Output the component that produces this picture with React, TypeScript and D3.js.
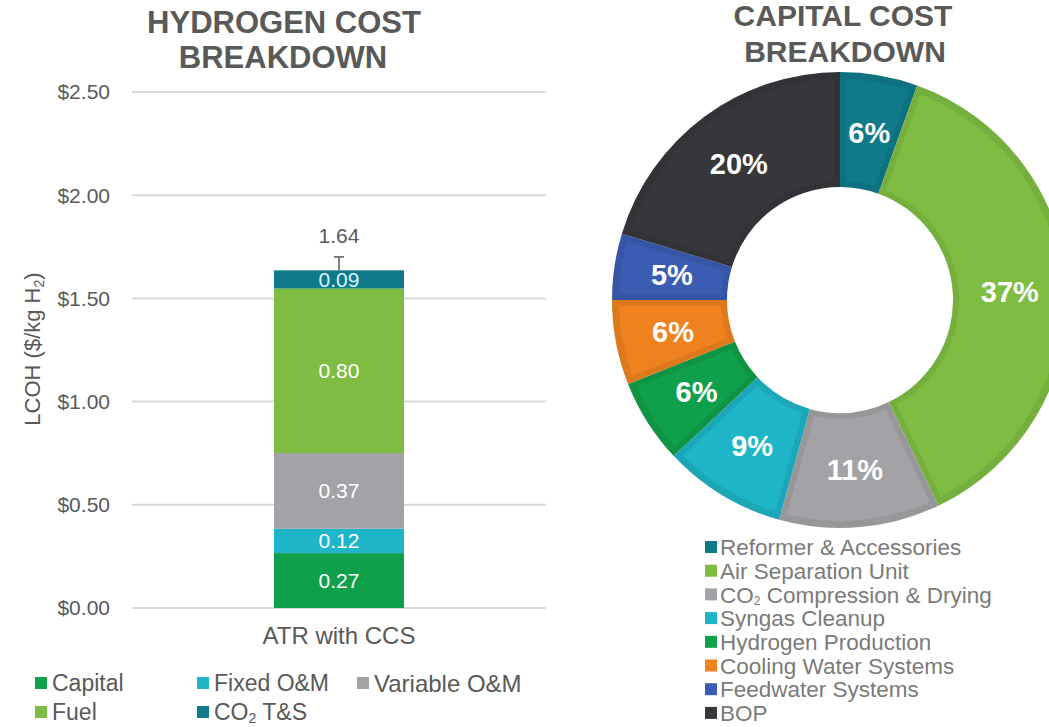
import React from 'react';
import * as d3 from 'd3';

// ---- Data: hydrogen cost breakdown (stacked bar) ----
const costCategories = ['Capital', 'Fixed O&M', 'Variable O&M', 'Fuel', 'CO₂ T&S'];
const costValues = [0.266, 0.118, 0.367, 0.797, 0.088];
const costColors = ['#10a04b', '#1db5c7', '#a3a3a7', '#7fbd42', '#0f7a8a'];
const barCategory = 'ATR with CCS';
const errorHigh = 0.065;
const yTicks = [0, 0.5, 1, 1.5, 2, 2.5];

// ---- Data: capital cost breakdown (donut) ----
const capitalLabels = [
  'Reformer & Accessories',
  'Air Separation Unit',
  'CO₂ Compression & Drying',
  'Syngas Cleanup',
  'Hydrogen Production',
  'Cooling Water Systems',
  'Feedwater Systems',
  'BOP',
];
const capitalShares = [5.5, 37.4, 11.4, 8.7, 6.0, 6.0, 4.7, 20.3];
const capitalColors = ['#0f7a8a', '#7fbd42', '#a3a3a7', '#1db5c7', '#10a04b', '#f0821e', '#3a5db3', '#37373b'];

const FONT = '"Liberation Sans", Arial, Helvetica, sans-serif';
const TEXT = '#595959';

function Sub({ label, subSize, shift }: { label: string; subSize: number; shift: number }) {
  const parts = label.split('₂');
  if (parts.length === 1) return <>{label}</>;
  return (
    <>
      {parts[0]}
      <tspan fontSize={subSize} dy={shift}>2</tspan>
      <tspan dy={-shift}>{parts[1]}</tspan>
    </>
  );
}

export default function App() {
  const W = 1049;
  const H = 727;

  // bar chart scales
  const y = d3.scaleLinear().domain([0, 2.5]).range([608, 92]);
  const x = d3.scaleBand<string>().domain([barCategory]).range([132, 546]).padding(0.522);
  const row: Record<string, number> = {};
  costCategories.forEach((c, i) => (row[c] = costValues[i]));
  const stack = d3.stack<Record<string, number>>().keys(costCategories)([row]);
  const total = d3.sum(costValues);
  const bx = x(barCategory) as number;
  const bw = x.bandwidth();
  const cx = bx + bw / 2;

  // donut
  const dcx = 840;
  const dcy = 300;
  const pie = d3.pie<number>().sort(null).value((d) => d)(capitalShares);
  const outerR = 228;
  const innerR = 113;
  const arcBase = d3.arc<d3.PieArcDatum<number>>().innerRadius(innerR).outerRadius(outerR);
  const arcInset = d3
    .arc<d3.PieArcDatum<number>>()
    .innerRadius(innerR + 6)
    .outerRadius(outerR - 7)
    .padRadius(100)
    .padAngle(0.12);
  const labelArc = d3.arc<d3.PieArcDatum<number>>().innerRadius(170).outerRadius(170);

  const leftLegendPos = [
    [35, 683],
    [197, 683],
    [357, 683],
    [35, 712],
    [197, 712],
  ];

  return (
    <svg
      width={W}
      height={H}
      style={{ position: 'absolute', left: 0, top: 0, background: '#fff' }}
      fontFamily={FONT}
    >
      {/* Left title */}
      <text x={284} y={33} textAnchor="middle" fontSize={31} fontWeight="bold" fill={TEXT}>
        HYDROGEN COST
      </text>
      <text x={283} y={68} textAnchor="middle" fontSize={31} fontWeight="bold" fill={TEXT}>
        BREAKDOWN
      </text>

      {/* gridlines + ticks */}
      {yTicks.map((t) => (
        <g key={t}>
          <line x1={132} x2={546} y1={y(t)} y2={y(t)} stroke="#d9d9d9" strokeWidth={2} />
          <text x={110} y={y(t)} dy="0.35em" textAnchor="end" fontSize={21} fill={TEXT}>
            {d3.format('$.2f')(t)}
          </text>
        </g>
      ))}

      {/* Y axis title */}
      <text
        transform={`translate(40,${349}) rotate(-90)`}
        textAnchor="middle"
        fontSize={22}
        fill={TEXT}
      >
        LCOH ($/kg H<tspan fontSize={14} dy={4}>2</tspan>
        <tspan dy={-4}>)</tspan>
      </text>

      {/* stacked bar */}
      {stack.map((s, i) => {
        const seg = s[0];
        const y0 = y(seg[0]);
        const y1 = y(seg[1]);
        return (
          <g key={s.key}>
            <rect x={bx} y={y1} width={bw} height={y0 - y1} fill={costColors[i]} />
            <text
              x={cx}
              y={(y0 + y1) / 2}
              dy="0.36em"
              textAnchor="middle"
              fontSize={21}
              fill={i === 4 ? '#d8f6fa' : '#ffffff'}
            >
              {costValues[i].toFixed(2)}
            </text>
          </g>
        );
      })}

      {/* error bar */}
      <line x1={cx} x2={cx} y1={y(total)} y2={y(total + errorHigh)} stroke={TEXT} strokeWidth={1.5} />
      <line x1={cx - 5} x2={cx + 5} y1={y(total + errorHigh)} y2={y(total + errorHigh)} stroke={TEXT} strokeWidth={1.5} />
      <text x={cx} y={236} dy="0.35em" textAnchor="middle" fontSize={21} fill={TEXT}>
        {total.toFixed(2)}
      </text>

      {/* category label */}
      <text x={cx} y={636} dy="0.35em" textAnchor="middle" fontSize={24} fill={TEXT}>
        {barCategory}
      </text>

      {/* left legend */}
      {costCategories.map((c, i) => (
        <g key={c}>
          <rect x={leftLegendPos[i][0]} y={leftLegendPos[i][1] - 6} width={12} height={12} fill={costColors[i]} />
          <text
            x={leftLegendPos[i][0] + 17}
            y={leftLegendPos[i][1]}
            dy="0.36em"
            fontSize={i === 2 ? 24 : 23}
            fill={TEXT}
          >
            <Sub label={c} subSize={14} shift={3} />
          </text>
        </g>
      ))}

      {/* Right title */}
      <text x={843} y={26} textAnchor="middle" fontSize={30} fontWeight="bold" fill={TEXT}>
        CAPITAL COST
      </text>
      <text x={845} y={62} textAnchor="middle" fontSize={30} fontWeight="bold" fill={TEXT}>
        BREAKDOWN
      </text>

      {/* donut */}
      <g transform={`translate(${dcx},${dcy})`}>
        {pie.map((p, i) => {
          const base = d3.color(capitalColors[i])!;
          const band = d3.color(capitalColors[i])!.darker(0.22).formatHex();
          return (
            <g key={i}>
              <path d={arcBase(p) as string} fill={band} />
              <path d={arcInset(p) as string} fill={base.formatHex()} />
            </g>
          );
        })}
        {pie.map((p, i) => {
          const [lx, ly] = labelArc.centroid(p);
          return (
            <text
              key={'l' + i}
              x={lx}
              y={ly}
              dy="0.36em"
              textAnchor="middle"
              fontSize={29}
              fontWeight="bold"
              fill="#ffffff"
            >
              {Math.round(capitalShares[i])}%
            </text>
          );
        })}
      </g>

      {/* right legend */}
      {capitalLabels.map((c, i) => (
        <g key={c}>
          <rect x={705} y={547 + i * 23.7 - 6} width={12} height={12} fill={capitalColors[i]} />
          <text x={720} y={547 + i * 23.7} dy="0.36em" fontSize={22.5} fill="#7a7a7a">
            <Sub label={c} subSize={12} shift={2} />
          </text>
        </g>
      ))}
    </svg>
  );
}
